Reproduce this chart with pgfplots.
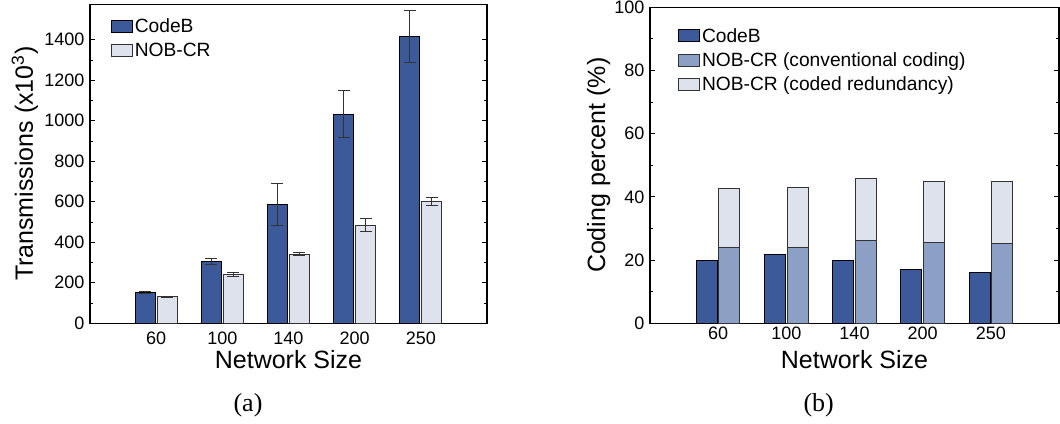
\documentclass[border=0pt]{standalone}
\usepackage{pgfplots}
\pgfplotsset{compat=1.18}
\usepackage{fontspec}
\setmainfont{Liberation Serif}
\newfontfamily\arialf{Liberation Sans}
\definecolor{cdark}{HTML}{3C5A99}
\definecolor{cmed}{HTML}{8C9FC5}
\definecolor{clight}{HTML}{DDE2EC}

\pgfplotsset{
  mylegend/.style={legend image code/.code={\draw[##1] (0pt,-6pt) rectangle (21pt,6pt);}},
  mystyle/.style={
    scale only axis,
    xmin=0, xmax=6,
    ymin=0,
    xtick={1,2,3,4,5},
    xticklabels={60,100,140,200,250},
    x tick style={draw=none},
    ytick pos=both,
    tick align=inside,
    major tick length=5pt, minor tick length=3pt,
    axis line style={line width=1.2pt, black},
    every tick/.style={black, line width=0.8pt},
    tick label style={font=\arialf\fontsize{18}{20}\selectfont},
    yticklabel style={xshift=-2pt, /pgf/number format/1000 sep={}},
    /pgf/number format/assume math mode=true,
    label style={font=\arialf\fontsize{25}{28}\selectfont},
    legend style={draw=none, fill=none, font=\arialf\fontsize{19.2}{22}\selectfont,
      anchor=north west, inner sep=0pt, row sep=5pt,
      /tikz/every even column/.append style={column sep=5pt}},
    legend cell align=left,
    mylegend,
  },
  ebars/.style={error bars/.cd, y dir=both, y explicit,
    error bar style={line width=0.9pt, black!80},
    error mark options={rotate=90, mark size=6pt, line width=0.9pt, black!80}},
}

\begin{document}
\begin{tikzpicture}
\path[use as bounding box] (0,0) rectangle (1060pt,423pt);

\begin{axis}[mystyle,
  at={(90pt,99.7pt)}, anchor=south west,
  width=397pt, height=319pt,
  ybar=2pt, bar width=20pt,
  ymax=1575,
  ytick={0,200,400,600,800,1000,1200,1400},
  minor y tick num=1,
  xlabel={Network Size},
  ylabel={Transmissions (x10\textsuperscript{3})},
  xlabel style={at={(axis description cs:0.5,-0.141)}, anchor=base},
  ylabel style={at={(axis description cs:-0.1436,0.5)}, anchor=base},
  legend style={at={(0.052,0.962)}},
]
\addplot[mylegend, fill=cdark, draw=black, line width=1pt, ebars]
  coordinates {(1,153) +- (0,4) (2,306) +- (0,13) (3,586) +- (0,103) (4,1033) +- (0,117) (5,1418) +- (0,129)};
\addlegendentry{CodeB}
\addplot[mylegend, fill=clight, draw=black!80, line width=1pt, ebars]
  coordinates {(1,131) +- (0,3) (2,240) +- (0,10) (3,342) +- (0,8) (4,485) +- (0,31) (5,602) +- (0,21)};
\addlegendentry{NOB-CR}
\end{axis}

\begin{axis}[mystyle,
  at={(650pt,99.7pt)}, anchor=south west,
  width=409pt, height=316pt,
  ymax=100,
  ytick={0,20,40,60,80,100},
  minor y tick num=1,
  xlabel={Network Size},
  ylabel={Coding percent (\%)},
  xlabel style={at={(axis description cs:0.5,-0.1415)}, anchor=base},
  ylabel style={at={(axis description cs:-0.110,0.5)}, anchor=base},
  legend style={at={(0.068,0.941)}},
]
% NOB-CR total (conventional + coded redundancy)
\addplot[ybar, forget plot, bar width=21pt, bar shift=11.25pt, fill=clight, draw=black!80, line width=1pt]
  coordinates {(1,42.7) (2,43.0) (3,45.8) (4,44.8) (5,44.9)};
% CodeB
\addplot[ybar, forget plot, bar width=21pt, bar shift=-11.25pt, fill=cdark, draw=black, line width=1pt]
  coordinates {(1,19.9) (2,21.7) (3,19.9) (4,17.1) (5,16.2)};
% NOB-CR conventional coding
\addplot[ybar, forget plot, bar width=21pt, bar shift=11.25pt, fill=cmed, draw=black!80, line width=1pt]
  coordinates {(1,24.1) (2,24.1) (3,26.3) (4,25.5) (5,25.3)};
\addlegendimage{mylegend, fill=cdark, draw=black, line width=1pt}
\addlegendentry{CodeB}
\addlegendimage{mylegend, fill=cmed, draw=black!80, line width=1pt}
\addlegendentry{NOB-CR (conventional coding)}
\addlegendimage{mylegend, fill=clight, draw=black!80, line width=1pt}
\addlegendentry{NOB-CR (coded redundancy)}
\end{axis}

\node[anchor=base, font=\fontsize{26}{28}\selectfont] at (248pt,12pt) {(a)};
\node[anchor=base, font=\fontsize{26}{28}\selectfont] at (818.7pt,12pt) {(b)};
\end{tikzpicture}
\end{document}
